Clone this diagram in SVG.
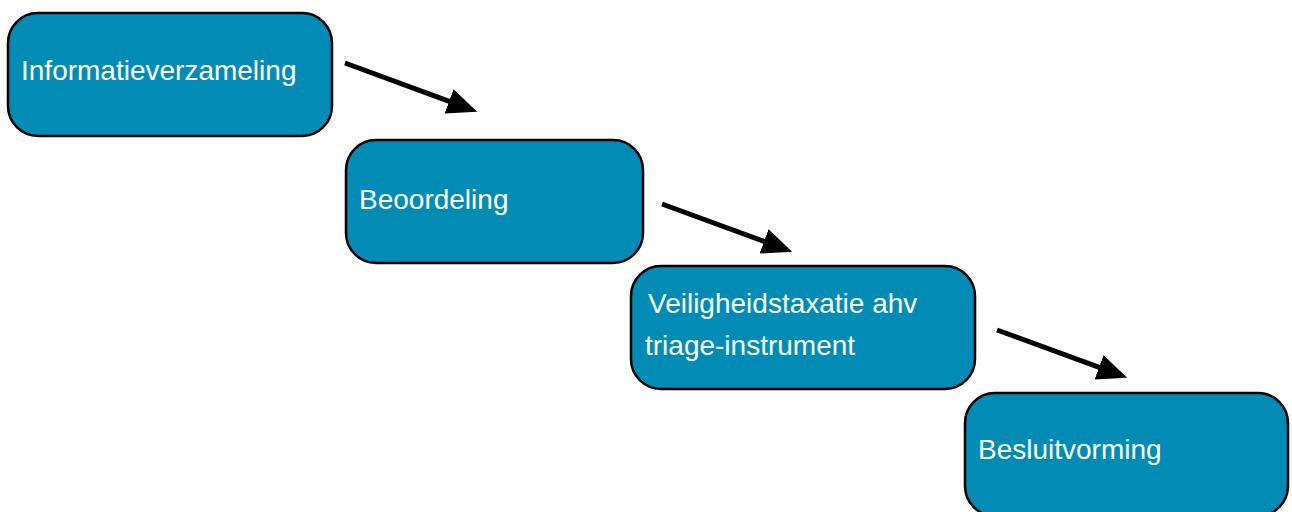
<svg xmlns="http://www.w3.org/2000/svg" width="1292" height="512" viewBox="0 0 1292 512">
<style>
.box{fill:#028cb5;stroke:#000;stroke-width:2.5}
.lbl{fill:#fff;font-family:"Liberation Sans",Arial,sans-serif;font-size:28px}
.conn{stroke:#000;stroke-width:5;fill:none;marker-end:url(#ah)}
</style>
<defs>
<marker id="ah" markerUnits="userSpaceOnUse" markerWidth="32" markerHeight="28" refX="1" refY="13" orient="auto">
<path d="M0,0 L30,13 L0,26 Z" fill="#000"/>
</marker>
</defs>
<rect width="1292" height="512" fill="#fff"/>
<g id="node1"><rect class="box" x="8" y="13" width="324" height="123" rx="30"/><text class="lbl" x="21" y="80">Informatieverzameling</text></g>
<g id="node2"><rect class="box" x="346" y="140" width="297" height="123" rx="30"/><text class="lbl" x="359" y="209">Beoordeling</text></g>
<g id="node3"><rect class="box" x="631" y="266" width="344" height="123" rx="30"/><text class="lbl" x="648" y="313">Veiligheidstaxatie ahv</text><text class="lbl" x="645" y="355">triage-instrument</text></g>
<g id="node4"><rect class="box" x="965" y="393" width="323" height="123" rx="30"/><text class="lbl" x="978" y="459">Besluitvorming</text></g>
<g id="connectors">
<line class="conn" x1="345" y1="63" x2="450" y2="101.7"/>
<line class="conn" x1="662" y1="204" x2="765" y2="241.7"/>
<line class="conn" x1="997" y1="330" x2="1100" y2="367.7"/>
</g>
</svg>
